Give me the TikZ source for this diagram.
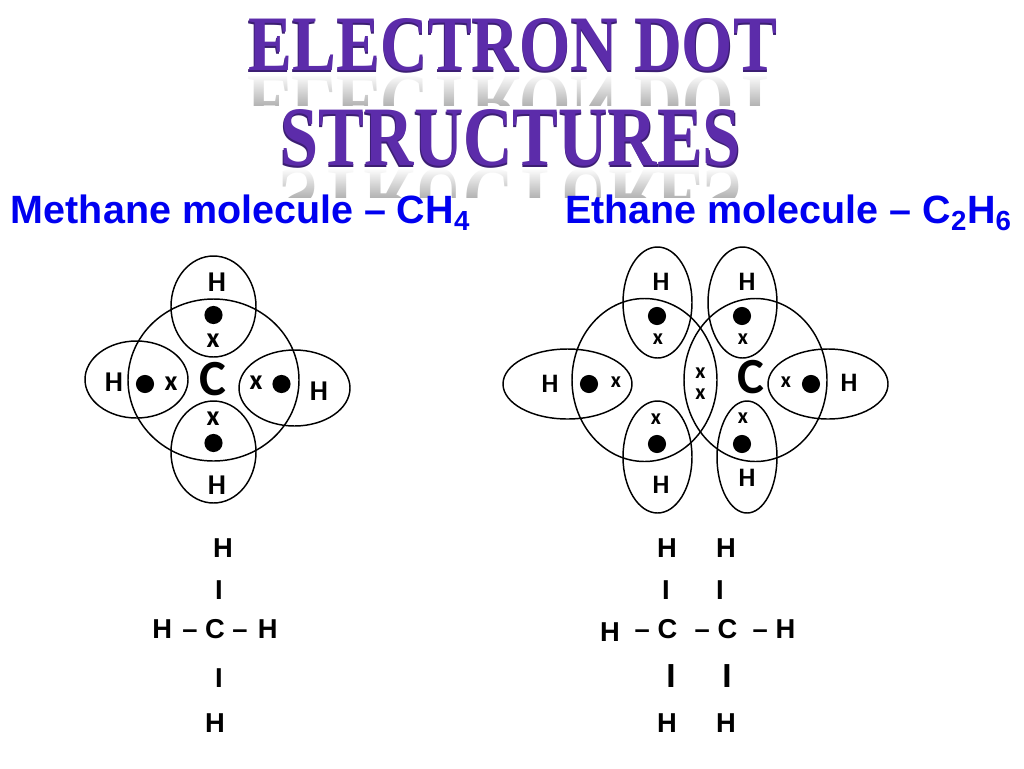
\documentclass[tikz,border=0pt]{standalone}
\usepackage{fontspec}
\setmainfont{Liberation Sans}
\newfontfamily\carlito{Carlito}
\newfontfamily\titlefont{Liberation Serif}
\usetikzlibrary{shapes.geometric,fadings}
\definecolor{headblue}{RGB}{0,0,240}
\definecolor{titlepurple}{RGB}{92,44,170}
\definecolor{titledark}{RGB}{60,30,115}
\newcommand{\titlebox}[3]{\resizebox{\dimexpr #2pt*3/4\relax}{\dimexpr #3pt*3/4\relax}{\titlefont\bfseries #1}}
\newcommand{\orb}[5]{\node[orbshape,minimum width={2*#4*0.75pt},minimum height={2*#5*0.75pt}] (#1) at (#2,#3) {};}
\newcommand{\edot}[3]{\node[edotshape] (#1) at (#2,#3) {};}
\tikzset{
  x=0.75pt,y=-0.75pt,
  orbshape/.style={ellipse,draw=black,line width=1.1pt,inner sep=0pt,outer sep=0pt},
  edotshape/.style={circle,fill=black,inner sep=0pt,minimum size=13.6pt},
  plain/.style={inner sep=0pt,outer sep=0pt,text=black},
  symA/.style={plain,font=\carlito\bfseries\fontsize{21.5}{21.5}\selectfont},
  symB/.style={plain,font=\carlito\bfseries\fontsize{20}{20}\selectfont},
  xA/.style={plain,font=\carlito\bfseries\fontsize{21}{21}\selectfont},
  xB/.style={plain,font=\carlito\bfseries\fontsize{16.5}{16.5}\selectfont},
  carbonA/.style={plain,font=\carlito\bfseries\fontsize{38}{38}\selectfont},
  heading/.style={plain,anchor=base west,text=headblue,font=\bfseries\fontsize{29.6}{29.6}\selectfont},
  struct/.style={plain,font=\bfseries\fontsize{20.5}{20.5}\selectfont},
  bondbig/.style={plain,font=\bfseries\fontsize{25}{25}\selectfont},
  tshadow/.style={plain,text=titledark},
  tmain/.style={plain,text=titlepurple},
  trefl/.style={plain,text=black!30},
  veil/.style={fill=white,draw=none},
}
\begin{document}
\begin{tikzpicture}
\useasboundingbox (0,0) rectangle (1024,768);
% title reflections
\node[trefl] (reflA) at (513,103) {\scalebox{1}[-1]{\titlebox{ELECTRON DOT}{530}{54}}};
\fill[veil,path fading=south] (240,74) rectangle (790,106);
\fill[veil] (240,105.5) rectangle (790,134);
\node[trefl] (reflB) at (511,198) {\scalebox{1}[-1]{\titlebox{STRUCTURES}{462}{58}}};
\fill[veil,path fading=south] (270,168) rectangle (750,198);
\fill[veil] (270,197.5) rectangle (750,232);
% title
\node[tshadow] (titleAs) at (513,47) {\titlebox{ELECTRON DOT}{530}{52}};
\node[tmain] (titleA) at (513,45) {\titlebox{ELECTRON DOT}{528}{52}};
\node[tshadow] (titleBs) at (511,140) {\titlebox{STRUCTURES}{462}{56}};
\node[tmain] (titleB) at (511,138) {\titlebox{STRUCTURES}{460}{56}};
% headings
\node[heading] (headA) at (11,223) {Methane molecule – CH\textsubscript{4}};
\node[heading] (headB) at (565,223) {Ethane molecule – C\textsubscript{2}H\textsubscript{6}};
% methane
\orb{mC}{213.5}{380}{85.5}{81}
\orb{mT}{213.5}{306.5}{42.5}{50.5}
\orb{mB}{213.5}{452}{42.5}{51}
\orb{mL}{136.5}{379.5}{51.5}{38.5}
\orb{mR}{294.5}{388}{55.5}{38}
\edot{mdT}{213.5}{315}\edot{mdB}{213.5}{443}\edot{mdL}{145}{384}\edot{mdR}{281.5}{384}
\node[xA] (mxT) at (213,341) {x};
\node[xA] (mxB) at (213,419) {x};
\node[xA] (mxL) at (171,384) {x};
\node[xA] (mxR) at (256,383) {x};
\node[symA] (mhT) at (217,282) {H};
\node[symA] (mhB) at (217,485) {H};
\node[symA] (mhL) at (114,382) {H};
\node[symA] (mhR) at (319,391) {H};
\node[carbonA] (mcC) at (213,379) {C};
% ethane
\orb{eCL}{644.5}{380}{72.5}{81.5}
\orb{eCR}{755.5}{380}{71.5}{81.5}
\orb{eTL}{657.5}{302.5}{34.5}{55.5}
\orb{eTR}{742.5}{302.5}{34.5}{55.5}
\orb{eBL}{657.5}{457}{34.5}{56}
\orb{eBR}{747}{457}{30}{56}
\orb{eL}{567.5}{384}{64.5}{35}
\orb{eR}{828}{384}{60}{35}
\edot{edTL}{657}{316}\edot{edTR}{742}{316}\edot{edL}{589}{384}\edot{edR}{811}{384}\edot{edBL}{657}{444}\edot{edBR}{742}{444}
\node[xB] (exTL) at (658,339) {x};
\node[xB] (exTR) at (743,339) {x};
\node[xB] (exL) at (616,382) {x};
\node[xB] (exR) at (786,382) {x};
\node[xB] (exBL) at (656,419) {x};
\node[xB] (exBR) at (743,418) {x};
\node[xB] (exM1) at (700.5,373) {x};
\node[xB] (exM2) at (700.5,394) {x};
\node[symB] (ehTL) at (661,282) {H};
\node[symB] (ehTR) at (747,282) {H};
\node[symB] (ehL) at (550,384) {H};
\node[symB] (ehR) at (849,383) {H};
\node[symB] (ehBL) at (661,485) {H};
\node[symB] (ehBR) at (747,478) {H};
\node[carbonA] (ecC) at (751,377) {C};
% methane structural formula
\node[struct] (sH1) at (223,548) {H};
\node[struct] (sI1) at (219,590) {I};
\node[struct] (sMid) at (215,629) {H\hspace{2pt} – C – \hspace{2pt}H};
\node[struct] (sI2) at (219,678) {I};
\node[struct] (sH2) at (215,723) {H};
% ethane structural formula
\node[struct] (tH1) at (667,548) {H};
\node[struct] (tH2) at (726,548) {H};
\node[struct] (tI1) at (666,590) {I};
\node[struct] (tI2) at (720,590) {I};
\node[struct] (tHl) at (610,632) {H};
\node[struct] (tC1) at (656,629) {– C};
\node[struct] (tC2) at (716,629) {– C};
\node[struct] (tHr) at (774,629) {– H};
\node[bondbig] (tI3) at (671,676) {I};
\node[bondbig] (tI4) at (727,676) {I};
\node[struct] (tH3) at (667,723) {H};
\node[struct] (tH4) at (726,723) {H};
\end{tikzpicture}
\end{document}
